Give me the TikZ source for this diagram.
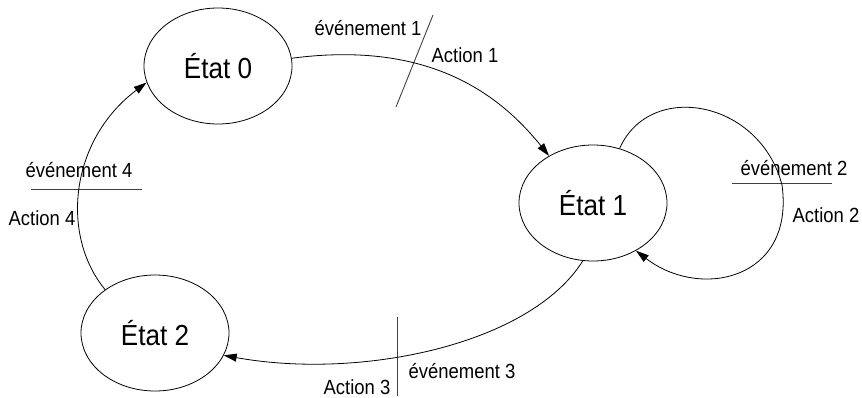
\documentclass[tikz,border=0pt]{standalone}
\usepackage{fontspec}
\setmainfont[FakeStretch=0.9]{Liberation Sans}
\usetikzlibrary{shapes.geometric,arrows.meta}
\begin{document}
\begin{tikzpicture}[x=1pt,y=-1pt,
  state/.style={draw,ellipse,line width=0.8pt,minimum width=148pt,minimum height=116pt,inner sep=0pt,font=\fontsize{29}{32}\selectfont},
  lbl/.style={inner sep=0pt,anchor=base,font=\fontsize{20.5}{23}\selectfont},
  arr/.style={line width=0.8pt,-{Triangle[length=13pt,width=8pt]}},
  bar/.style={line width=0.9pt,black!75}]
\path[use as bounding box] (0,0) rectangle (862,397);
\node[state] (e0) at (218,66) {État 0};
\node[state] (e1) at (593,203) {État 1};
\node[state] (e2) at (155,333) {État 2};
% labels
\node[lbl] (ev1) at (368,35) {événement 1};
\node[lbl] (ac1) at (465,62) {Action 1};
\node[lbl] (ev2) at (794,175) {événement 2};
\node[lbl] (ac2) at (826,222) {Action 2};
\node[lbl] (ev3) at (462,378) {événement 3};
\node[lbl] (ac3) at (357,394) {Action 3};
\node[lbl] (ev4) at (79,177) {événement 4};
\node[lbl] (ac4) at (42,225) {Action 4};
% separator lines
\coordinate (s1a) at (433,15); \coordinate (s1b) at (396,107);
\coordinate (s2a) at (732,183); \coordinate (s2b) at (832,183);
\coordinate (s3a) at (397,317); \coordinate (s3b) at (397,396);
\coordinate (s4a) at (31,189); \coordinate (s4b) at (142,189);
\draw[bar] (s1a) -- (s1b);
\draw[bar] (s2a) -- (s2b);
\draw[bar] (s3a) -- (s3b);
\draw[bar] (s4a) -- (s4b);
% transitions
\draw[arr] (e0.6) .. controls (430,40) and (500,95) .. (e1.133);
\draw[arr] (e1.64) .. controls (650,80) and (760,100) .. (782,185) .. controls (795,280) and (700,300) .. (e1.-48);
\draw[arr] (e1.-100) .. controls (530,345) and (360,380) .. (e2.-18);
\draw[arr] (e2.139) .. controls (60,235) and (70,140) .. (e0.-167);
\end{tikzpicture}
\end{document}
